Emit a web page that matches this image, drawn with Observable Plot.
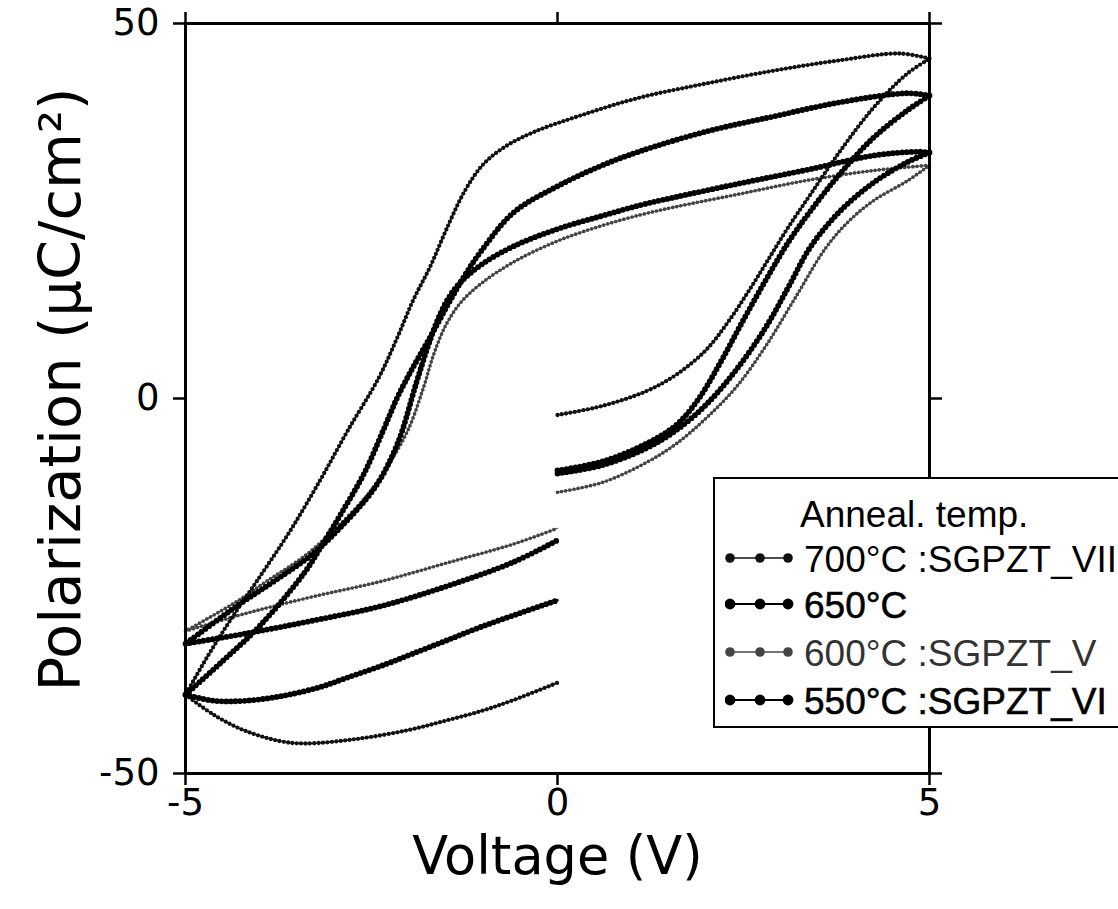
<!DOCTYPE html>
<html>
<head>
<meta charset="utf-8">
<script src="https://cdn.jsdelivr.net/npm/d3@7"></script>
<script src="https://cdn.jsdelivr.net/npm/@observablehq/plot@0.6"></script>
<style>
html,body{margin:0;padding:0;background:#fff;overflow:hidden;}
#wrap{position:relative;width:1118px;height:909px;overflow:hidden;background:#fff;}
#legend{position:absolute;left:713px;top:477px;width:460px;height:251px;border:2px solid #000;background:#fff;
  font-family:"Liberation Sans",Arial,Helvetica,sans-serif;font-size:37px;line-height:37px;color:#000;box-sizing:border-box;}
#legend .t{position:absolute;white-space:nowrap;}
#legend svg{position:absolute;left:10px;}
</style>
</head>
<body>
<div id="wrap"><div id="legend"></div></div>
<script>
// ---- axis ticks & titles ----
const xTicks = [-5, 0, 5];
const yTicks = [-50, 0, 50];
const xTitle = "Voltage (V)";
const yTitle = "Polarization (µC/cm²)";
const legendTitle = "Anneal. temp.";
const samples = ["700", "650", "600", "550"];
const legendLabels = ["700°C :SGPZT_VII", "650°C", "600°C :SGPZT_V", "550°C :SGPZT_VI"];

// ---- P–V loops: [voltage V, polarization µC/cm²] ----
// 700 °C
const rise700 = [[0,-2.2],[0.6,-1.0],[1.2,1.0],[1.6,3.2],[2.0,6.5],[2.3,10.3],[2.6,14.8],[2.85,18.8],[3.1,22.8],[3.4,27.2],[3.8,33],[4.25,38.8],[4.7,43.3],[5,45.3]];
const fall700 = [[5,45.3],[4.6,46],[3.8,45.1],[2.9,43.7],[2.0,42],[1.1,40.1],[0.3,37.7],[-0.3,35.6],[-0.7,33.6],[-1.0,31.2],[-1.25,27.6],[-1.5,22.4],[-1.71,17.6],[-1.94,13.1],[-2.15,8.2],[-2.4,2.8],[-2.82,-4.3],[-3.19,-10.9],[-3.59,-17.6],[-3.99,-23.6],[-4.4,-29.6],[-4.71,-34.5],[-5,-39.5]];
const back700 = [[-5,-39.5],[-4.6,-42.3],[-4.2,-44.3],[-3.72,-45.7],[-3.4,-46],[-2.7,-45.4],[-2.0,-44.2],[-1.48,-42.9],[-1.0,-41.6],[-0.59,-40.2],[0,-37.9]];
// 650 °C
const rise650 = [[0,-9.6],[0.6,-8.4],[1.2,-6.0],[1.6,-3.5],[1.9,0],[2.2,5],[2.5,10.5],[2.8,15.8],[3.1,20.8],[3.4,25],[3.8,30],[4.25,34.8],[4.7,38.4],[5,40.4]];
const fall650 = [[5,40.4],[4.7,40.7],[3.8,39.5],[2.9,37.6],[2.0,35.6],[1.12,33.0],[0.58,31.0],[0,28.3],[-0.59,24.8],[-1.03,19.6],[-1.26,16.2],[-1.48,12.4],[-1.71,8.2],[-1.94,4.2],[-2.15,0.2],[-2.34,-4.2],[-2.6,-10],[-2.9,-15.2],[-3.15,-19.3],[-3.4,-23.2],[-4.0,-30.3],[-4.5,-35],[-5,-39.5]];
const back650 = [[-5,-39.5],[-4.62,-40.3],[-4.2,-40.3],[-3.72,-39.7],[-3.2,-38.5],[-2.82,-37.2],[-2.3,-35.4],[-1.94,-34],[-1.5,-32.3],[-1.04,-30.5],[-0.5,-28.6],[0,-26.9]];
// 600 °C
const rise600 = [[0,-12.5],[0.6,-11.2],[1.2,-8.5],[1.6,-6],[2.0,-2.6],[2.4,1.5],[2.8,7],[3.2,13.5],[3.6,20],[3.9,23.5],[4.25,26.4],[4.7,29],[5,31.1]];
const fall600 = [[5,31.1],[4.25,30.4],[3.36,29.1],[2.46,27.3],[1.56,25.5],[1.12,24.5],[0.58,23.0],[0,21.0],[-0.59,18.2],[-1.03,15.3],[-1.3,12.8],[-1.5,9.8],[-1.66,6.0],[-1.8,1.5],[-2.0,-4],[-2.25,-8.5],[-2.55,-12.8],[-3.0,-17.5],[-3.4,-21],[-3.9,-24.3],[-4.3,-27],[-5,-31]];
const back600 = [[-5,-31],[-4.17,-28.6],[-3.28,-26.4],[-2.38,-24.4],[-1.48,-21.9],[-0.59,-19.4],[0,-17.3]];
// 550 °C
const rise550 = [[0,-10],[0.6,-8.9],[1.2,-6.6],[1.6,-4.2],[2.0,-0.8],[2.4,3.8],[2.8,9.5],[3.1,14.8],[3.4,20.2],[3.8,25],[4.25,28.8],[4.7,31.5],[5,32.8]];
const fall550 = [[5,32.8],[4.85,32.9],[4.25,32.4],[3.36,30.5],[2.46,28.7],[1.56,26.8],[1.12,25.8],[0.58,24.3],[0,22.6],[-0.59,20.3],[-1.03,17.8],[-1.34,15.1],[-1.5,12.8],[-1.63,10.0],[-1.76,6.4],[-1.9,2],[-2.15,-6],[-2.45,-11.8],[-2.9,-17],[-3.3,-20.8],[-3.8,-24.3],[-4.3,-27.6],[-5,-32.7]];
const back550 = [[-5,-32.7],[-4.17,-31.3],[-3.28,-29.6],[-2.38,-27.7],[-1.48,-25],[-0.59,-21.8],[0,-18.9]];

const branches = {
  "700": [rise700, fall700, back700],
  "650": [rise650, fall650, back650],
  "600": [rise600, fall600, back600],
  "550": [rise550, fall550, back550]
};

// styles (not data)
const styles = {
  "700": {color: "#111", base: 1.4, dot: 4.3, gap: "0 4.4"},
  "650": {color: "#000", base: 2.4, dot: 5.8, gap: "0 4.6"},
  "600": {color: "#444", base: 1.2, dot: 3.7, gap: "0 4.2"},
  "550": {color: "#000", base: 2.4, dot: 5.8, gap: "0 4.6"}
};

const rows = [];
for (const s of samples) {
  branches[s].forEach((br, bi) => br.forEach(([V, P]) => rows.push({sample: s, branch: s + "-" + bi, V, P})));
}

const drawOrder = ["600", "700", "550", "650"];
const lineMarks = [];
for (const s of drawOrder) {
  const st = styles[s];
  const data = rows.filter(d => d.sample === s);
  lineMarks.push(Plot.line(data, {x: "V", y: "P", z: "branch", curve: "catmull-rom", stroke: st.color, strokeWidth: st.base}));
  lineMarks.push(Plot.line(data, {x: "V", y: "P", z: "branch", curve: "catmull-rom", stroke: st.color, strokeWidth: st.dot, strokeDasharray: st.gap, strokeLinecap: "round"}));
}

const chart = Plot.plot({
  width: 1118, height: 909,
  marginLeft: 185, marginRight: 189, marginTop: 23, marginBottom: 136,
  x: {domain: [-5, 5]},
  y: {domain: [-50, 50]},
  style: {fontFamily: "'DejaVu Sans', Verdana, sans-serif", fontSize: "37px", color: "#000", background: "#fff", overflow: "visible"},
  marks: [
    Plot.axisX({ticks: xTicks, anchor: "bottom", tickSize: 12, tickPadding: 3, strokeWidth: 2.5, tickFormat: d => String(d), label: null, fontSize: 37}),
    Plot.axisX({ticks: xTicks, anchor: "top", tickSize: 12, strokeWidth: 2.5, tickFormat: () => "", label: null}),
    Plot.axisY({ticks: yTicks, anchor: "left", tickSize: 12, tickPadding: 14, strokeWidth: 2.5, tickFormat: d => String(d), label: null, fontSize: 37}),
    Plot.axisY({ticks: yTicks, anchor: "right", tickSize: 12, strokeWidth: 2.5, tickFormat: () => "", label: null}),
    ...lineMarks,
    Plot.frame({stroke: "#000", strokeWidth: 3}),
    Plot.text([yTitle], {frameAnchor: "left", dx: -124, dy: -9, rotate: -90, fontSize: 57.5, textAnchor: "middle", lineAnchor: "middle", fill: "#000"}),
    Plot.text([xTitle], {frameAnchor: "bottom", dy: 84, fontSize: 52.5, textAnchor: "middle", lineAnchor: "middle", fill: "#000"})
  ]
});
document.getElementById("wrap").prepend(chart);

// ---- legend (HTML overlay) ----
const legend = document.getElementById("legend");
const tdiv = document.createElement("div");
tdiv.className = "t"; tdiv.textContent = legendTitle;
tdiv.style.left = "85px"; tdiv.style.top = "17px";
legend.appendChild(tdiv);
const baselines = [93, 139, 187, 235];
samples.forEach((s, i) => {
  const st = styles[s];
  const sw = d3.create("svg").attr("width", 70).attr("height", 16)
    .style("top", (baselines[i] - 14 - 8) + "px");
  sw.append("line").attr("x1", 5).attr("x2", 65).attr("y1", 8).attr("y2", 8)
    .attr("stroke", st.color).attr("stroke-width", Math.max(1.3, st.base * 0.9));
  [5, 35, 63].forEach(cx => sw.append("circle").attr("cx", cx).attr("cy", 8).attr("r", s === "650" || s === "550" ? 5.4 : 4.8).attr("fill", st.color));
  legend.appendChild(sw.node());
  const d = document.createElement("div");
  d.className = "t"; d.textContent = legendLabels[i];
  d.style.left = "89px"; d.style.top = (baselines[i] - 31) + "px";
  if (s === "600") d.style.color = "#333";
  if (s === "650" || s === "550") d.style.webkitTextStroke = "0.6px #000";
  legend.appendChild(d);
});
</script>
</body>
</html>
